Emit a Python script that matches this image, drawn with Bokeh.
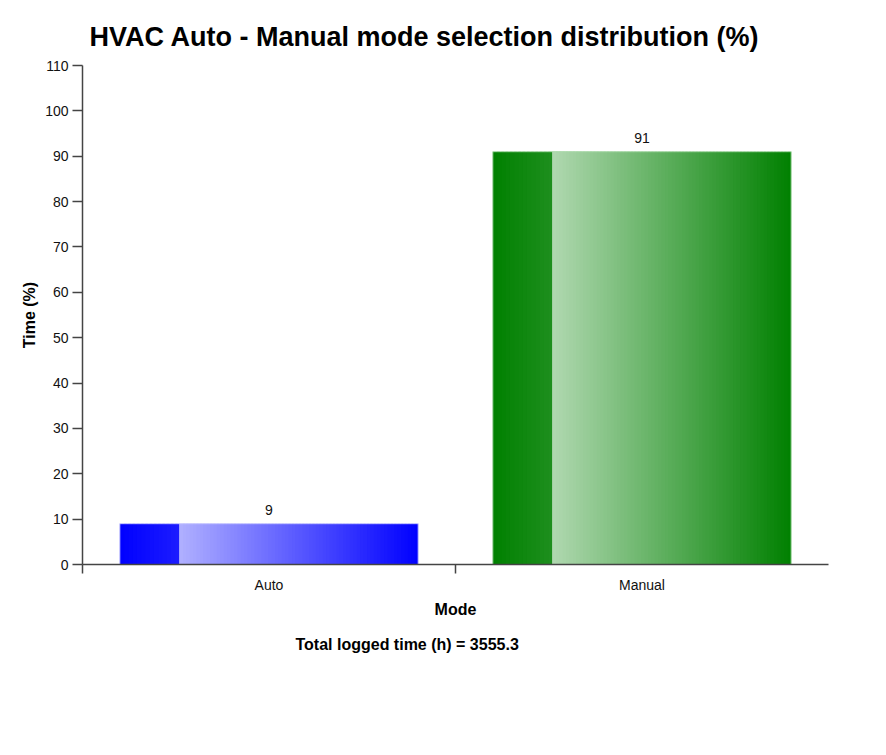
from bokeh.plotting import figure
from bokeh.models import Range1d, FixedTicker, Title, ColumnDataSource
from bokeh.core.properties import value
from bokeh.embed import file_html
from bokeh.resources import INLINE

# ---- data ----
categories = ["Auto", "Manual"]
percent = [9, 91]
y_ticks = [0, 10, 20, 30, 40, 50, 60, 70, 80, 90, 100, 110]
total_hours = 3555.3

# ---- styling ----
dark_start = ["#0000ff", "#008000"]
dark_end = ["#1c1cff", "#1e8f1e"]
light_start = ["#b0b0ff", "#b0d8b0"]
edge_colors = ["#c8c8ff", "#a8d8a8"]
FONT = "Liberation Sans"
BAR_W = 0.8
SPLIT = 0.2


def hex2rgb(h):
    h = h.lstrip("#")
    return tuple(int(h[i:i + 2], 16) for i in (0, 2, 4))


def mix(c1, c2, t):
    a, b = hex2rgb(c1), hex2rgb(c2)
    return "#%02x%02x%02x" % tuple(int(round(a[k] + (b[k] - a[k]) * t)) for k in range(3))


p = figure(
    frame_width=746, frame_height=499,
    x_range=Range1d(0, len(categories)), y_range=Range1d(0, 110),
    output_backend="svg", toolbar_location=None,
    min_border_left=82, min_border_right=40, min_border_top=65, min_border_bottom=120,
)
p.outline_line_color = None
p.xgrid.grid_line_color = None
p.ygrid.grid_line_color = None
p.background_fill_color = "white"
p.border_fill_color = "white"

p.title.text = "HVAC Auto - Manual mode selection distribution (%)"
p.title.text_font = FONT
p.title.text_font_size = "27px"
p.title.text_font_style = "bold"
p.title.text_color = "black"
p.title.align = "left"
p.title.offset = 7
p.title.standoff = 27

# gradient bars built from thin, slightly overlapping slices
L, R, B, T, C = [], [], [], [], []
n_dark, n_light = 14, 70
for i, v in enumerate(percent):
    center = i + 0.5
    left = center - BAR_W / 2
    right = center + BAR_W / 2
    split_x = left + BAR_W * SPLIT
    segs = [(left, split_x, dark_start[i], dark_end[i], n_dark),
            (split_x, right, light_start[i], dark_start[i], n_light)]
    for a, b, c0, c1, n in segs:
        step = (b - a) / n
        for k in range(n):
            L.append(a + step * k)
            R.append(min(a + step * (k + 1.6), b))
            B.append(0)
            T.append(v)
            C.append(mix(c0, c1, (k + 0.5) / n))

src = ColumnDataSource(dict(left=L, right=R, bottom=B, top=T, color=C))
p.quad(left="left", right="right", bottom="bottom", top="top", source=src,
       fill_color="color", line_color=None)

outline = ColumnDataSource(dict(
    left=[i + 0.5 - BAR_W / 2 for i in range(len(categories))],
    right=[i + 0.5 + BAR_W / 2 for i in range(len(categories))],
    bottom=[0] * len(categories),
    top=percent,
    edge=edge_colors,
))
p.quad(left="left", right="right", bottom="bottom", top="top", source=outline,
       fill_alpha=0, line_color="edge", line_width=1)

labels = ColumnDataSource(dict(
    x=[i + 0.5 for i in range(len(categories))],
    y=percent,
    txt=[str(v) for v in percent],
))
p.text(x="x", y="y", text="txt", source=labels, text_align="center",
       text_baseline="bottom", y_offset=-9, text_font=value(FONT),
       text_font_size="14px", text_color="#111111")

# axes
axis_color = "#444444"
p.xaxis.ticker = FixedTicker(ticks=[i + 0.5 for i in range(len(categories))],
                             minor_ticks=list(range(len(categories))))
p.xaxis.major_label_overrides = {i + 0.5: c for i, c in enumerate(categories)}
p.xaxis.major_tick_out = 0
p.xaxis.major_tick_in = 0
p.xaxis.minor_tick_out = 9
p.xaxis.minor_tick_in = 0
p.xaxis.major_label_standoff = 3
p.xaxis.axis_label = "Mode"
p.xaxis.axis_label_standoff = 5

p.yaxis.ticker = FixedTicker(ticks=y_ticks)
p.yaxis.major_tick_out = 10
p.yaxis.major_tick_in = 0
p.yaxis.minor_tick_out = 0
p.yaxis.minor_tick_in = 0
p.yaxis.major_label_standoff = 4
p.yaxis.axis_label = "Time (%)"
p.yaxis.axis_label_standoff = 4

for ax in (p.xaxis[0], p.yaxis[0]):
    ax.axis_line_color = axis_color
    ax.axis_line_width = 1.5
    ax.major_tick_line_color = axis_color
    ax.major_tick_line_width = 1.5
    ax.minor_tick_line_color = axis_color
    ax.minor_tick_line_width = 1.5
    ax.major_label_text_font = FONT
    ax.major_label_text_font_size = "14px"
    ax.major_label_text_color = "#111111"
    ax.axis_label_text_font = FONT
    ax.axis_label_text_font_size = "16px"
    ax.axis_label_text_font_style = "bold"
    ax.axis_label_text_color = "black"

p.add_layout(Title(text="Total logged time (h) = %s" % total_hours, align="left",
                   offset=213, text_font=FONT, text_font_size="16px",
                   text_font_style="bold", text_color="black", standoff=26), "below")

open("out.html", "w").write(file_html(p, INLINE))
